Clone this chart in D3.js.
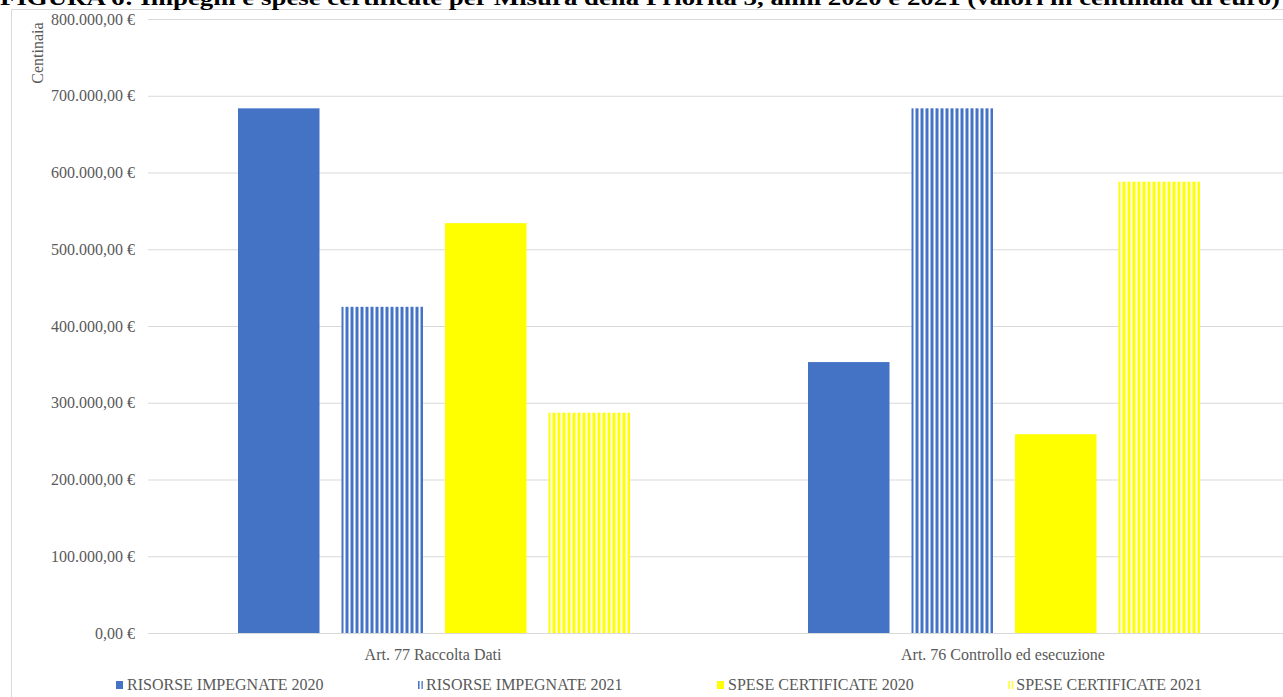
<!DOCTYPE html>
<html>
<head>
<meta charset="utf-8">
<script src="https://cdn.jsdelivr.net/npm/d3@7"></script>
<style>
  html, body { margin: 0; padding: 0; background: #fff; overflow: hidden; }
  svg { display: block; font-family: "Liberation Serif", "Times New Roman", serif; }
</style>
</head>
<body>
<svg id="chart" width="1283" height="697"></svg>
<script>
// Categories (Misure) and series
const categories = ["Art. 77 Raccolta Dati", "Art. 76 Controllo ed esecuzione"];
const seriesNames = ["RISORSE IMPEGNATE 2020", "RISORSE IMPEGNATE 2021", "SPESE CERTIFICATE 2020", "SPESE CERTIFICATE 2021"];

// Values in hundreds of euro, one entry per category
const risorse2020 = [683600, 353000];
const risorse2021 = [425000, 683600];
const spese2020   = [534000, 259000];
const spese2021   = [287000, 588000];

const yTicks = [0, 100000, 200000, 300000, 400000, 500000, 600000, 700000, 800000];

const titleText = "FIGURA 6: Impegni e spese certificate per Misura della Priorità 3, anni 2020 e 2021 (valori in centinaia di euro)";
const yAxisTitle = "Centinaia";

const seriesValues = [risorse2020, risorse2021, spese2020, spese2021];
const seriesStyle = [
  { color: "#4472C4", striped: false },
  { color: "#4472C4", striped: true },
  { color: "#FFFF00", striped: false },
  { color: "#FFFF00", striped: true }
];

const W = 1283, H = 697;
const svg = d3.select("#chart");
const defs = svg.append("defs");

const grey = "#d9d9d9";
const textGrey = "#595959";

// Italian currency formatting: 800.000,00 €
const it = d3.formatLocale({ decimal: ",", thousands: ".", grouping: [3], currency: ["", "\u00a0€"] });
const fmt = it.format("$,.2f");

// Scales
const y = d3.scaleLinear().domain([0, 800000]).range([633, 19]);
const x0 = d3.scaleBand().domain(categories).range([149, 1289]);
const x1 = d3.scaleBand().domain(seriesNames).range([0, x0.bandwidth()])
  .paddingInner(0.2126).paddingOuter(0.86);

// Chart frame
svg.append("line").attr("x1", 11.5).attr("x2", 11.5).attr("y1", 9.5).attr("y2", H)
  .attr("stroke", grey).attr("stroke-width", 1);
svg.append("line").attr("x1", 11.5).attr("x2", W).attr("y1", 9.5).attr("y2", 9.5)
  .attr("stroke", grey).attr("stroke-width", 1);

// Title (runs above the top edge of the page)
svg.append("text")
  .attr("x", 0).attr("y", 5)
  .attr("font-size", 22).attr("font-weight", "bold").attr("fill", "#000")
  .attr("textLength", 1280).attr("lengthAdjust", "spacingAndGlyphs")
  .text(titleText);

// Y axis with gridlines
const yAxis = d3.axisLeft(y).tickValues(yTicks).tickFormat(fmt)
  .tickSize(-(W - 148)).tickPadding(13);
const gy = svg.append("g").attr("transform", "translate(148,0)").call(yAxis);
gy.attr("font-family", null).attr("font-size", null);
gy.select(".domain").remove();
gy.selectAll(".tick line").attr("stroke", grey).attr("stroke-width", 1);
gy.selectAll(".tick text")
  .attr("fill", textGrey).attr("font-size", 16)
  .attr("font-family", "Liberation Serif, serif");

// Y axis title
svg.append("text")
  .attr("transform", "translate(43,53) rotate(-90)")
  .attr("text-anchor", "middle")
  .attr("font-size", 16).attr("fill", textGrey)
  .text(yAxisTitle);

// Stripe patterns, one per striped bar so stripes start at the bar's left edge
function stripePattern(id, color, originX, period, stripe) {
  const p = defs.append("pattern")
    .attr("id", id).attr("patternUnits", "userSpaceOnUse")
    .attr("x", originX).attr("y", 0)
    .attr("width", period).attr("height", 10);
  p.append("rect").attr("width", period).attr("height", 10).attr("fill", "#fff");
  p.append("rect").attr("width", stripe).attr("height", 10).attr("fill", color);
}

// Bars
const groups = svg.append("g").selectAll("g")
  .data(categories).join("g")
  .attr("transform", d => `translate(${x0(d)},0)`);

groups.each(function (cat, ci) {
  const g = d3.select(this);
  seriesNames.forEach((s, si) => {
    const v = seriesValues[si][ci];
    const bx = x0(cat) + x1(s);
    let fill = seriesStyle[si].color;
    if (seriesStyle[si].striped) {
      const pid = `stripe-${si}-${ci}`;
      stripePattern(pid, seriesStyle[si].color, bx, 5, 3);
      fill = `url(#${pid})`;
    }
    g.append("rect")
      .attr("x", x1(s))
      .attr("y", y(v))
      .attr("width", x1.bandwidth())
      .attr("height", y(0) - y(v))
      .attr("fill", fill);
  });
});

// Category labels
svg.append("g").selectAll("text")
  .data(categories).join("text")
  .attr("x", d => x0(d) + x0.bandwidth() / 2 - 1)
  .attr("y", 660)
  .attr("text-anchor", "middle")
  .attr("font-size", 16).attr("fill", textGrey)
  .text(d => d);

// Legend
const legend = svg.append("g");
const legendItems = legend.selectAll("g").data(seriesNames).join("g");
legendItems.each(function (s, si) {
  const g = d3.select(this);
  const striped = seriesStyle[si].striped;
  let fill = seriesStyle[si].color;
  if (striped) {
    const pid = `legend-stripe-${si}`;
    stripePattern(pid, seriesStyle[si].color, 0, 3.5, 1.5);
    fill = `url(#${pid})`;
  }
  g.append("rect").attr("class", "mk")
    .attr("x", 0).attr("y", -9).attr("width", striped ? 5 : 7).attr("height", 8)
    .attr("fill", fill);
  g.append("text").attr("x", striped ? 8 : 11).attr("y", 0)
    .attr("font-size", 16).attr("fill", textGrey)
    .text(s);
});
// Lay items out in a row between the legend's left and right ends
const widths = [];
legendItems.each(function () { widths.push(this.getBBox().width); });
const left = 116, right = 1202;
const gap = (right - left - d3.sum(widths)) / (widths.length - 1);
let cx = left;
legendItems.each(function (s, i) {
  d3.select(this).attr("transform", `translate(${cx},690)`);
  cx += widths[i] + gap;
});
</script>
</body>
</html>
